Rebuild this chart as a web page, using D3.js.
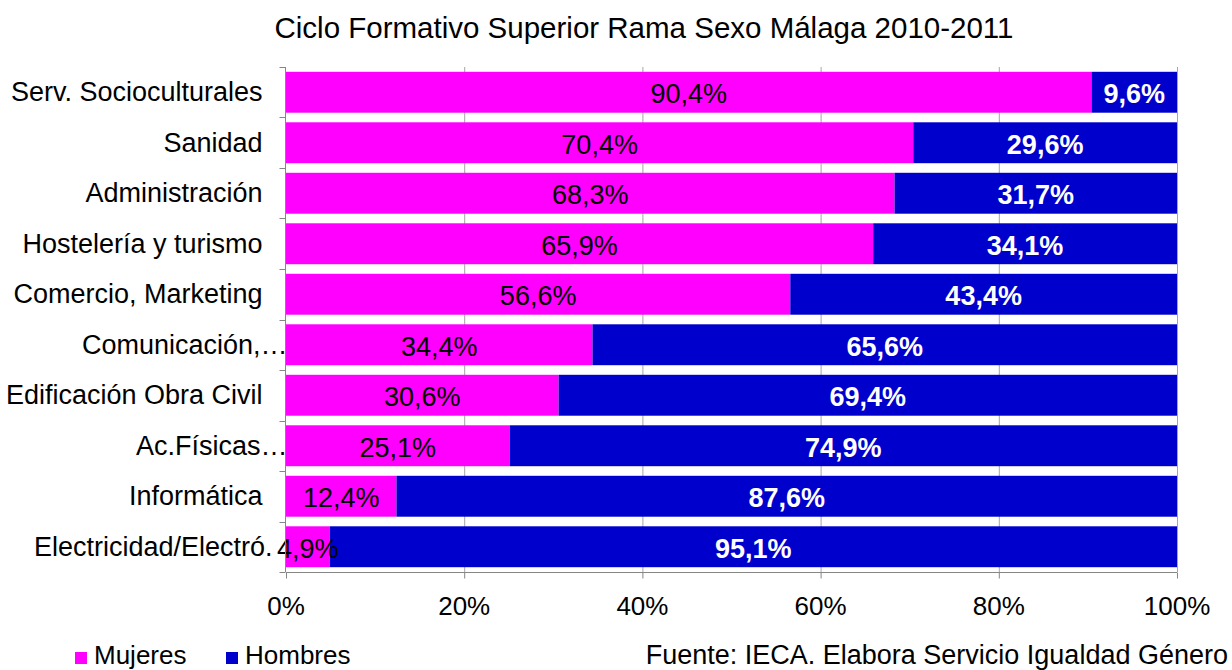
<!DOCTYPE html>
<html>
<head>
<meta charset="utf-8">
<script src="https://cdn.jsdelivr.net/npm/d3@7"></script>
<style>
  body { margin: 0; background: #fff; overflow: hidden; }
  text { font-family: "Liberation Sans", Arial, sans-serif; }
</style>
</head>
<body>
<div id="chart"></div>
<script>
// Chart data
var categories = ["Serv. Socioculturales", "Sanidad", "Administración", "Hostelería y turismo",
    "Comercio, Marketing", "Comunicación,…", "Edificación Obra Civil", "Ac.Físicas…",
    "Informática", "Electricidad/Electró."];
var mujeres = [90.4, 70.4, 68.3, 65.9, 56.6, 34.4, 30.6, 25.1, 12.4, 4.9];
var hombres = [9.6, 29.6, 31.7, 34.1, 43.4, 65.6, 69.4, 74.9, 87.6, 95.1];
var xTicks = [0, 20, 40, 60, 80, 100];
var seriesNames = ["Mujeres", "Hombres"];
var seriesColors = ["#ff00ff", "#0000cc"];

function makeChart(divID) {
    var width = 1232, height = 670;
    var left = 286, right = 1177, top = 67, bottom = 572;
    var fontSize = "27px";

    var svg = d3.select("#" + divID).append("svg")
        .attr("width", width)
        .attr("height", height);

    var xScale = d3.scaleLinear().domain([0, 100]).range([left, right]);
    var yScale = d3.scaleBand().domain(categories).range([top, bottom]).paddingInner(0.19).paddingOuter(0.095);

    // gridlines
    svg.append("g").selectAll("line")
        .data(xTicks.slice(1))
        .enter().append("line")
        .attr("x1", function (d) { return xScale(d) + 0.5; })
        .attr("x2", function (d) { return xScale(d) + 0.5; })
        .attr("y1", top).attr("y2", bottom)
        .attr("stroke", "#a6a6a6").attr("stroke-width", 1);

    var rows = categories.map(function (c, i) { return { cat: c, m: mujeres[i], h: hombres[i] }; });

    // Mujeres bars
    svg.append("g").selectAll("rect")
        .data(rows).enter().append("rect")
        .attr("x", xScale(0))
        .attr("y", function (d) { return yScale(d.cat); })
        .attr("width", function (d) { return xScale(d.m) - xScale(0); })
        .attr("height", yScale.bandwidth())
        .attr("fill", seriesColors[0]);

    // Hombres bars
    svg.append("g").selectAll("rect")
        .data(rows).enter().append("rect")
        .attr("x", function (d) { return xScale(d.m); })
        .attr("y", function (d) { return yScale(d.cat); })
        .attr("width", function (d) { return xScale(d.m + d.h) - xScale(d.m); })
        .attr("height", yScale.bandwidth())
        .attr("fill", seriesColors[1]);

    var fmt = function (v) { return v.toFixed(1).replace(".", ",") + "%"; };
    var mid = function (d) { return yScale(d.cat) + yScale.bandwidth() / 2 + 11; };

    svg.append("g").selectAll("text")
        .data(rows).enter().append("text")
        .attr("x", function (d) { return xScale(d.m / 2); })
        .attr("y", mid)
        .attr("text-anchor", "middle")
        .style("font-size", fontSize)
        .attr("fill", "#000")
        .text(function (d) { return fmt(d.m); });

    svg.append("g").selectAll("text")
        .data(rows).enter().append("text")
        .attr("x", function (d) { return xScale(d.m + d.h / 2); })
        .attr("y", mid)
        .attr("text-anchor", "middle")
        .style("font-size", fontSize)
        .style("font-weight", "bold")
        .attr("fill", "#fff")
        .text(function (d) { return fmt(d.h); });

    // y axis
    var yAxis = svg.append("g")
        .attr("transform", "translate(" + (left - 0.5) + ",0)");
    yAxis.append("line").attr("y1", top).attr("y2", bottom).attr("stroke", "#868686");
    var yBounds = categories.map(function (c) { return yScale(c) - yScale.step() * yScale.paddingInner() / 2; });
    yBounds.push(bottom);
    yAxis.selectAll(".ytick").data(yBounds).enter().append("line")
        .attr("x1", -6).attr("x2", 0)
        .attr("y1", function (d) { return Math.round(d) + 0.5; })
        .attr("y2", function (d) { return Math.round(d) + 0.5; })
        .attr("stroke", "#868686");
    // truncated labels (ending with an ellipsis) run on past the usual right edge
    yAxis.selectAll(".ylab").data(categories).enter().append("text")
        .attr("x", function (d) { return d.slice(-1) == "…" ? 2 : (d.slice(-1) == "." ? -13 : -23); })
        .attr("y", function (d) { return yScale(d) + yScale.bandwidth() / 2 + 9; })
        .attr("text-anchor", "end")
        .style("font-size", fontSize)
        .attr("fill", "#000")
        .text(function (d) { return d; });

    // x axis
    var xAxis = svg.append("g")
        .attr("transform", "translate(0," + (bottom + 0.5) + ")");
    xAxis.append("line").attr("x1", left).attr("x2", right).attr("stroke", "#868686");
    xAxis.selectAll(".xtick").data(xTicks).enter().append("line")
        .attr("x1", function (d) { return xScale(d) + 0.5; })
        .attr("x2", function (d) { return xScale(d) + 0.5; })
        .attr("y1", 0).attr("y2", 6)
        .attr("stroke", "#868686");
    xAxis.selectAll(".xlab").data(xTicks).enter().append("text")
        .attr("x", function (d) { return xScale(d); })
        .attr("y", 42)
        .attr("text-anchor", "middle")
        .style("font-size", "26px")
        .attr("fill", "#000")
        .text(function (d) { return d + "%"; });

    // title
    svg.append("text")
        .attr("x", 644).attr("y", 38)
        .attr("text-anchor", "middle")
        .style("font-size", "29.5px")
        .attr("fill", "#000")
        .text("Ciclo Formativo Superior Rama Sexo Málaga 2010-2011");

    // legend
    var legendX = [75, 226];
    var legend = svg.append("g");
    legend.selectAll("rect").data(seriesNames).enter().append("rect")
        .attr("x", function (d, i) { return legendX[i]; })
        .attr("y", 652)
        .attr("width", 12).attr("height", 12)
        .attr("fill", function (d, i) { return seriesColors[i]; });
    legend.selectAll("text").data(seriesNames).enter().append("text")
        .attr("x", function (d, i) { return legendX[i] + 19; })
        .attr("y", 664)
        .style("font-size", "26px")
        .attr("fill", "#000")
        .text(function (d) { return d; });

    svg.append("text")
        .attr("x", 1228).attr("y", 664)
        .attr("text-anchor", "end")
        .style("font-size", fontSize)
        .attr("fill", "#000")
        .text("Fuente: IECA. Elabora Servicio Igualdad Género");
}

makeChart("chart");
</script>
</body>
</html>
